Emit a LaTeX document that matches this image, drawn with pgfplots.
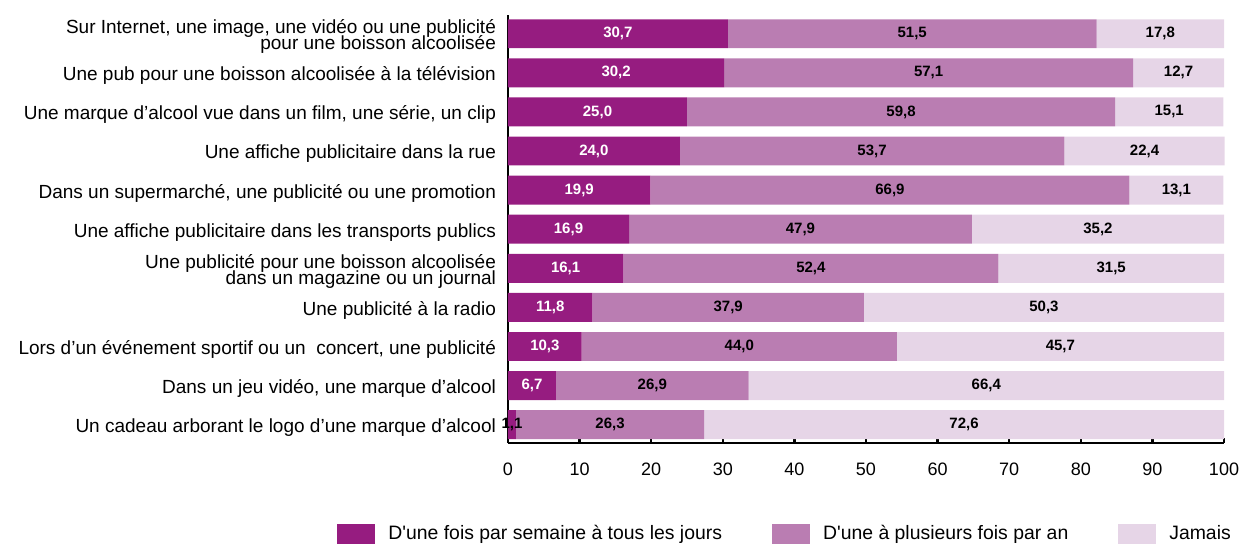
\documentclass[border=0pt]{standalone}
\usepackage{pgfplots}
\pgfplotsset{compat=1.18}
\usepackage{pgfplotstable}
\usepackage{fontspec}
\setmainfont{Liberation Sans}
\definecolor{cA}{RGB}{150,28,128}
\definecolor{cB}{RGB}{186,125,178}
\definecolor{cC}{RGB}{230,213,231}
\newcommand\ylabfont{\fontsize{9.5}{8}\selectfont\lineskiplimit=-6pt\relax\lineskip=0pt\relax}
\pgfplotstableread{
y a b c w
0 30.7 51.5 17.8 100
1 30.2 57.1 12.7 100
2 25.0 59.8 15.1 100
3 24.0 53.7 22.4 100
4 19.9 66.9 13.1 100
5 16.9 47.9 35.2 100
6 16.1 52.4 31.5 100
7 11.8 37.9 50.3 100
8 10.3 44.0 45.7 100
9 6.7 26.9 66.4 100
10 1.1 26.3 72.6 0
}\data
\begin{document}
\begin{tikzpicture}
\begin{axis}[
  scale only axis, width=358pt, height=214pt,
  xbar stacked, bar width=0.74,
  xmin=0, xmax=100, ymin=-0.48, ymax=10.47, y dir=reverse,
  clip=false,
  axis lines*=left, axis line style={line width=1.2pt, black},
  xtick={0,10,...,100}, tick align=inside, major tick length=2.5pt,
  xtick style={line width=1.2pt, black},
  ytick={0,...,10}, ytick style={draw=none},
  yticklabels={{Sur Internet, une image, une vidéo ou une publicité\\pour une boisson alcoolisée},
    {Une pub pour une boisson alcoolisée à la télévision},
    {Une marque d’alcool vue dans un film, une série, un clip},
    {Une affiche publicitaire dans la rue},
    {Dans un supermarché, une publicité ou une promotion},
    {Une affiche publicitaire dans les transports publics},
    {Une publicité pour une boisson alcoolisée\\dans un magazine ou un journal},
    {Une publicité à la radio},
    {Lors d’un événement sportif ou un\ \ concert, une publicité},
    {Dans un jeu vidéo, une marque d’alcool},
    {Un cadeau arborant le logo d’une marque d’alcool}},
  yticklabel style={align=right, font=\ylabfont, xshift=-2.5pt, yshift=-1.5pt},
  xticklabel style={font=\fontsize{9}{10}\selectfont, yshift=-6.5pt},
  /pgf/number format/assume math mode=true,
  nodes near coords={\pgfmathprintnumber[fixed,fixed zerofill,precision=1,use comma]{\pgfplotspointmeta}},
  point meta=explicit,
  every node near coord/.append style={font=\fontsize{7.5}{9}\selectfont\bfseries, anchor=center},
  legend style={at={(axis description cs:0,-0.2126)}, anchor=west, xshift=-85.5pt,
    inner sep=0pt, legend columns=3, draw=none, fill=none,
    font=\fontsize{9.7}{11}\selectfont,
    /tikz/every odd column/.append style={column sep=4.5pt},
    /tikz/every even column/.append style={column sep=23pt}},
  legend image code/.code={\path[#1] (0pt,-5pt) rectangle (19pt,5pt);},
]
\addplot[fill=cA, draw=none,
  visualization depends on={\thisrow{w} \as \tw},
  every node near coord/.append style={text=white!\tw!black}] table[x=a, y=y, meta=a] {\data};
\addplot[fill=cB, draw=none,
  every node near coord/.append style={text=black}] table[x=b, y=y, meta=b] {\data};
\addplot[fill=cC, draw=none,
  every node near coord/.append style={text=black}] table[x=c, y=y, meta=c] {\data};
\legend{D\textquotesingle une fois par semaine à tous les jours, D\textquotesingle une à plusieurs fois par an, Jamais}
\end{axis}
\pgfresetboundingbox
\path[use as bounding box] (-254pt,-50pt) rectangle (366pt,221.5pt);
\end{tikzpicture}
\end{document}
